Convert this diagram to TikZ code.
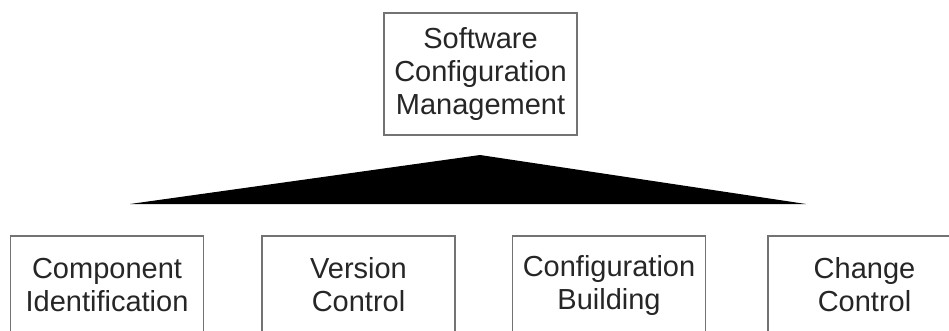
\documentclass[tikz,border=0pt]{standalone}
\usepackage{fontspec}
\setmainfont{Liberation Sans}
\begin{document}
\begin{tikzpicture}[x=1pt,y=-1pt,
  box/.style={draw=black!55,line width=1.3pt,minimum width=193pt,inner sep=0pt,
    align=center,text=black!85,font=\fontsize{29}{33}\selectfont},
  topbox/.style={box,minimum height=122pt},
  subbox/.style={box,minimum height=98pt}]
\useasboundingbox (0,0) rectangle (949,330);
\clip (0,0) rectangle (949,330);
\fill[white] (0,0) rectangle (949,330);
\node[topbox] (scm) at (480.5,74) {Software\\Configuration\\Management};
\coordinate (apex) at (480,155);
\coordinate (bl) at (130,204);
\coordinate (br) at (806,204);
\fill[black] (bl) -- (apex) -- (br) -- cycle;
\node[subbox] (ci) at (107,285) {Component\\Identification};
\node[subbox] (vc) at (358.5,285) {Version\\Control};
\node[subbox] (cb) at (609,285) {Configuration\\Building};
\node[subbox] (cc) at (864.5,285) {Change\\Control};
\end{tikzpicture}
\end{document}
